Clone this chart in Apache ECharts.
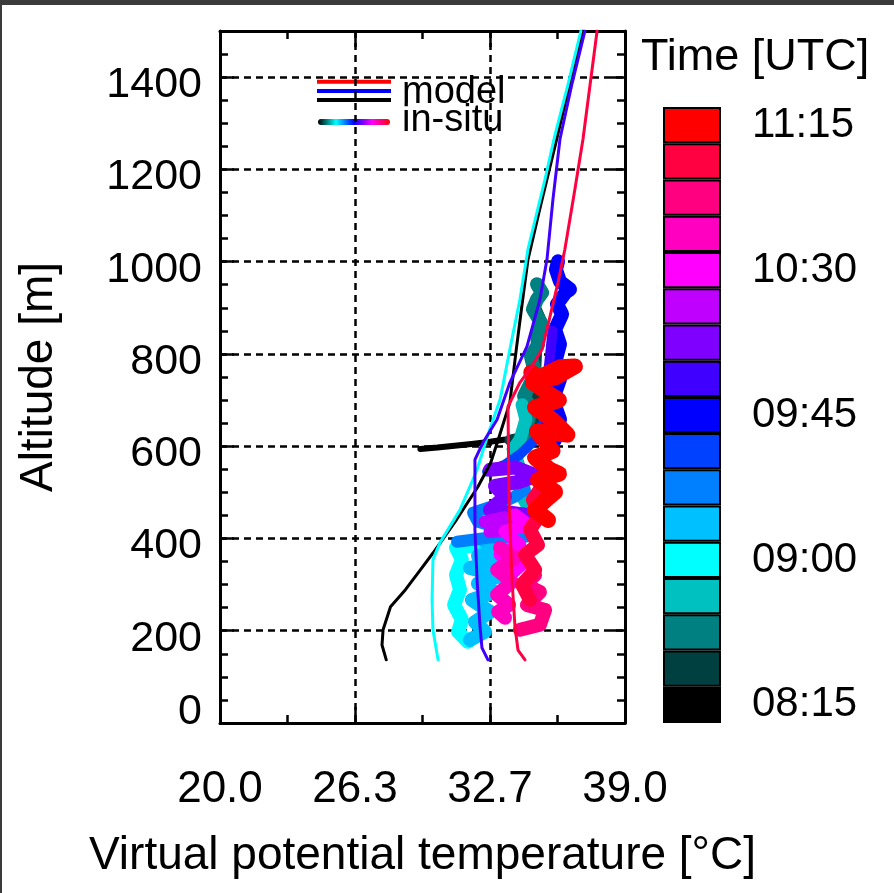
<!DOCTYPE html>
<html><head><meta charset="utf-8">
<script src="https://cdn.jsdelivr.net/npm/echarts@6/dist/echarts.min.js"></script>
<style>
html,body{margin:0;padding:0;background:#3b3b3b;width:894px;height:893px;overflow:hidden}
#c{position:absolute;left:2px;top:5px;width:892px;height:888px;background:#fff}
</style></head><body><div id="c"></div>
<script>
// ---- axes ----
const xTickValues = [20, 20 + 19 / 3, 20 + 38 / 3, 39];
const xTickLabels = ['20.0', '26.3', '32.7', '39.0'];
const xMinorTicks = [20 + 19 / 6, 20 + 19 / 2, 20 + 95 / 6];
const yMin = 0, yMax = 1500, yMajor = 200, yMinor = 50;

// ---- colour bar (time, UTC) ----
const cbTimes = ['08:15','08:26','08:37','08:49','09:00','09:11','09:22','09:34','09:45','09:56','10:08','10:19','10:30','10:41','10:52','11:04','11:15'];
const cbColors = ['#000000','#004040','#008080','#00c0c0','#00ffff','#00c0ff','#0080ff','#0040ff','#0000ff','#4000ff','#8000ff','#c000ff','#ff00ff','#ff00c0','#ff0080','#ff0040','#ff0000'];

// ---- model profiles [temperature °C, altitude m] ----
const model_0815 = [[27.8,137],[27.6,169],[27.65,202],[28.0,252],[28.7,289],[29.4,332],[30.0,369],[31.1,441],[32.1,512],[32.7,564],[33.1,621],[33.6,695],[33.9,810],[34.2,918],[34.45,1005],[35.0,1114],[35.8,1266],[36.4,1385],[37.03,1500]];
const model_0900 = [[30.23,137],[29.99,202],[29.95,267],[29.99,354],[30.32,391],[31.26,462],[32.06,549],[32.57,625],[33.14,701],[33.6,810],[34.07,918],[34.45,1027],[35.25,1179],[35.67,1266],[36.33,1385],[36.93,1500]];
const model_0956 = [[32.57,137],[32.29,163],[32.2,208],[32.06,310],[31.96,419],[31.96,571],[32.34,608],[33.0,658],[33.6,738],[34.4,816],[35.01,918],[35.34,1005],[35.62,1135],[35.95,1266],[36.51,1385],[37.12,1500]];
const model_1104 = [[34.31,137],[33.98,158],[33.84,208],[33.7,310],[33.56,484],[33.51,686],[34.07,738],[34.68,777],[35.11,810],[35.48,881],[35.86,955],[36.18,1027],[36.65,1157],[37.03,1266],[37.69,1500]];

// ---- in-situ profiles [temperature °C, altitude m] ----
const insitu_0815 = [[29.4,594],[30.2,597],[31.0,601],[31.8,605],[32.6,609],[33.3,614],[33.9,616]];
const insitu_0826 = [[33.6,613],[34.1,618],[34.5,622],[34.7,640],[34.9,860],[35.0,880],[34.8,900]];
const insitu_0837 = [[34.54,614],[34.4,647],[34.59,679],[34.26,708],[34.54,734],[34.78,760],[34.59,794],[34.92,821],[34.87,838],[35.06,868],[34.68,897],[34.87,918],[35.11,933],[34.87,951]];
const insitu_0849 = [[34.4,473],[34.07,499],[34.17,534],[33.93,571],[33.75,593],[34.07,614],[34.21,636],[34.35,658],[34.17,690]];
const insitu_0900 = [[31.63,176],[31.17,198],[31.35,224],[30.98,256],[31.26,289],[31.07,321],[31.35,354],[31.07,380],[31.73,384],[32.67,380]];
const insitu_0911 = [[31.73,180],[32.43,198],[31.96,219],[32.67,241],[31.82,267],[32.9,284],[32.1,302],[33.14,319],[31.73,336],[32.9,350],[32.1,362],[33.37,376],[32.43,393],[33.61,408]];
const insitu_0922 = [[31.12,393],[32.67,402],[34.4,404],[33.37,419],[32.1,436],[31.87,456],[33.0,473],[33.84,491],[34.31,506]];
const insitu_0934 = [[32.53,545],[33.37,560],[34.07,582],[34.78,614],[35.25,658],[35.58,701],[35.76,745]];
const insitu_0945 = [[35.72,614],[35.95,658],[35.62,701],[35.95,745],[35.76,788],[35.95,821],[35.72,853],[36.05,886],[35.81,908],[36.23,934],[36.42,940],[35.95,957],[35.76,983],[35.86,1001]];
const insitu_0956 = [[35.3,640],[35.5,690],[35.4,760],[35.6,850]];
const insitu_1008 = [[32.67,549],[33.84,554],[34.87,536],[34.07,523],[32.9,514],[33.37,491],[32.67,462],[34.4,451],[33.14,436]];
const insitu_1019 = [[32.43,436],[33.37,445],[34.4,432],[33.61,419],[32.67,415]];
const insitu_1030 = [[33.84,451],[34.45,430],[33.37,415],[34.07,386],[33.14,365],[34.31,350],[33.61,321]];
const insitu_1041 = [[33.14,380],[33.84,358],[33.0,332],[33.7,306],[33.0,278],[33.56,256],[33.05,241],[33.37,228]];
const insitu_1052 = [[34.07,202],[35.01,213],[35.25,245],[34.4,256],[35.01,284],[34.31,300],[34.78,321]];
const insitu_1104 = [[34.54,267],[34.17,300],[34.78,332],[34.31,365],[34.92,386],[34.54,419],[35.01,451],[34.68,484],[35.01,506]];
const insitu_1115 = [[35.39,440],[34.78,462],[35.3,484],[35.72,501],[34.92,527],[35.9,540],[35.48,549],[34.78,575],[35.6,590],[35.39,603],[34.87,632],[36.3,625],[35.58,658],[34.78,684],[35.9,700],[35.48,712],[34.68,738],[35.25,755],[35.95,771],[36.65,773],[35.72,749],[35.01,745],[34.6,760]];

const insitu = [
  ['08:15', insitu_0815, 6], ['08:26', insitu_0826, 11], ['08:37', insitu_0837, 14], ['08:49', insitu_0849, 13],
  ['09:00', insitu_0900, 14], ['09:11', insitu_0911, 14], ['09:22', insitu_0922, 12], ['09:34', insitu_0934, 10],
  ['09:45', insitu_0945, 14], ['09:56', insitu_0956, 10], ['10:08', insitu_1008, 14], ['10:19', insitu_1019, 13],
  ['10:30', insitu_1030, 13], ['10:41', insitu_1041, 14], ['10:52', insitu_1052, 14], ['11:04', insitu_1104, 14],
  ['11:15', insitu_1115, 16]
];
const models = [['08:15', model_0815], ['09:00', model_0900], ['09:56', model_0956], ['11:04', model_1104]];

const FF = '"Liberation Sans", Arial, Helvetica, sans-serif';
const colorOf = t => cbColors[cbTimes.indexOf(t)];
const axisLine = { show: true, onZero: false, lineStyle: { color: '#000', width: 3 } };
const noLine = { show: false, onZero: false };
const tickStyle = { color: '#000', width: 2.5 };
const dash = { color: '#000', width: 2.5, type: [7, 5] };

const chart = echarts.init(document.getElementById('c'), null, { renderer: 'canvas' });

const series = [];
insitu.forEach(([t, d, w]) => series.push({
  type: 'line', name: 'in-situ ' + t, xAxisIndex: 0, yAxisIndex: 0, data: d,
  symbol: 'none', showSymbol: false, smooth: false, silent: true,
  lineStyle: { color: colorOf(t), width: w, cap: 'round', join: 'round' }
}));
models.forEach(([t, d]) => series.push({
  type: 'line', name: 'model ' + t, xAxisIndex: 0, yAxisIndex: 0, data: d,
  symbol: 'none', showSymbol: false, smooth: false, silent: true,
  lineStyle: { color: colorOf(t), width: 3, cap: 'round', join: 'round' }
}));
series.push({
  type: 'bar', xAxisIndex: 4, yAxisIndex: 4, barCategoryGap: '0%', silent: true,
  data: cbColors.map(c => ({ value: 1, itemStyle: { color: c } })),
  itemStyle: { borderColor: '#000', borderWidth: 2 }
});

chart.setOption({
  animation: false,
  backgroundColor: '#fff',
  grid: [
    { left: 218, top: 26, width: 405, height: 692, containLabel: false, outerBoundsMode: 'none' },
    { left: 661, top: 102, width: 58, height: 616, containLabel: false, outerBoundsMode: 'none' }
  ],
  xAxis: [
    { gridIndex: 0, type: 'value', min: 20, max: 39, position: 'bottom', axisLine,
      axisTick: { show: true, inside: true, length: 16, customValues: xTickValues, lineStyle: tickStyle },
      axisLabel: { show: true, customValues: xTickValues, margin: 45, color: '#000', fontSize: 44, fontFamily: FF,
        formatter: v => { let i = xTickValues.findIndex(a => Math.abs(a - v) < 1e-6); return i >= 0 ? xTickLabels[i] : ''; } },
      splitLine: { show: true, lineStyle: dash },
      name: 'Virtual potential temperature [°C]', nameLocation: 'middle', nameGap: 110,
      nameTextStyle: { color: '#000', fontSize: 46, fontFamily: FF } },
    { gridIndex: 0, type: 'value', min: 20, max: 39, position: 'bottom', axisLine: noLine,
      axisTick: { show: true, inside: true, length: 8, customValues: xMinorTicks, lineStyle: tickStyle },
      axisLabel: { show: false }, splitLine: { show: false } },
    { gridIndex: 0, type: 'value', min: 20, max: 39, position: 'top', axisLine,
      axisTick: { show: true, inside: true, length: 16, customValues: xTickValues, lineStyle: tickStyle },
      axisLabel: { show: false }, splitLine: { show: false } },
    { gridIndex: 0, type: 'value', min: 20, max: 39, position: 'top', axisLine: noLine,
      axisTick: { show: true, inside: true, length: 8, customValues: xMinorTicks, lineStyle: tickStyle },
      axisLabel: { show: false }, splitLine: { show: false } },
    { gridIndex: 1, type: 'value', min: 0, max: 1, show: false }
  ],
  yAxis: [
    { gridIndex: 0, type: 'value', min: yMin, max: yMax, interval: yMajor, position: 'left', axisLine,
      axisTick: { show: true, inside: true, length: 14, lineStyle: tickStyle },
      axisLabel: { show: true, showMaxLabel: false, margin: 18, color: '#000', fontSize: 43, fontFamily: FF,
        formatter: v => v === 0 ? '{z|0}' : '{a|' + v + '}',
        rich: { a: { fontSize: 43, fontFamily: FF, color: '#000', padding: [16, 0, 0, 0] },
                z: { fontSize: 43, fontFamily: FF, color: '#000', padding: [0, 0, 22, 0] } } },
      splitLine: { show: true, lineStyle: dash },
      name: 'Altitude [m]', nameLocation: 'middle', nameGap: 158,
      nameTextStyle: { color: '#000', fontSize: 46, fontFamily: FF } },
    { gridIndex: 0, type: 'value', min: yMin, max: yMax, interval: yMinor, position: 'left', axisLine: noLine,
      axisTick: { show: true, inside: true, length: 8, lineStyle: tickStyle },
      axisLabel: { show: false }, splitLine: { show: false } },
    { gridIndex: 0, type: 'value', min: yMin, max: yMax, interval: yMajor, position: 'right', axisLine,
      axisTick: { show: true, inside: true, length: 14, lineStyle: tickStyle },
      axisLabel: { show: false }, splitLine: { show: false } },
    { gridIndex: 0, type: 'value', min: yMin, max: yMax, interval: yMinor, position: 'right', axisLine: noLine,
      axisTick: { show: true, inside: true, length: 8, lineStyle: tickStyle },
      axisLabel: { show: false }, splitLine: { show: false } },
    { gridIndex: 1, type: 'category', data: cbTimes, position: 'right',
      axisLine: { show: false }, axisTick: { show: false }, splitLine: { show: false },
      axisLabel: { show: true, interval: (i) => i % 4 === 0, margin: 31, color: '#000', fontSize: 42, fontFamily: FF } }
  ],
  series,
  graphic: [
    { type: 'text', left: 639, top: 30, style: { text: 'Time [UTC]', fill: '#000', font: '45px ' + FF } },
    { type: 'rect', shape: { x: 315, y: 74.7, width: 74, height: 4 }, style: { fill: '#ff0000' } },
    { type: 'rect', shape: { x: 315, y: 84, width: 74, height: 4 }, style: { fill: '#0000ff' } },
    { type: 'rect', shape: { x: 315, y: 93, width: 74, height: 4 }, style: { fill: '#000000' } },
    { type: 'rect', shape: { x: 316, y: 114, width: 72, height: 6, r: 3 },
      style: { fill: new echarts.graphic.LinearGradient(0, 0, 1, 0, [
        { offset: 0, color: '#000' }, { offset: 0.25, color: '#00ffff' }, { offset: 0.5, color: '#0000ff' },
        { offset: 0.75, color: '#ff00ff' }, { offset: 1, color: '#ff0000' }]) } },
    { type: 'text', x: 400, y: 88, style: { text: 'model', fill: '#000', font: '38px ' + FF, verticalAlign: 'middle' } },
    { type: 'text', x: 400, y: 116, style: { text: 'in-situ', fill: '#000', font: '38px ' + FF, verticalAlign: 'middle' } }
  ]
});
</script></body></html>
